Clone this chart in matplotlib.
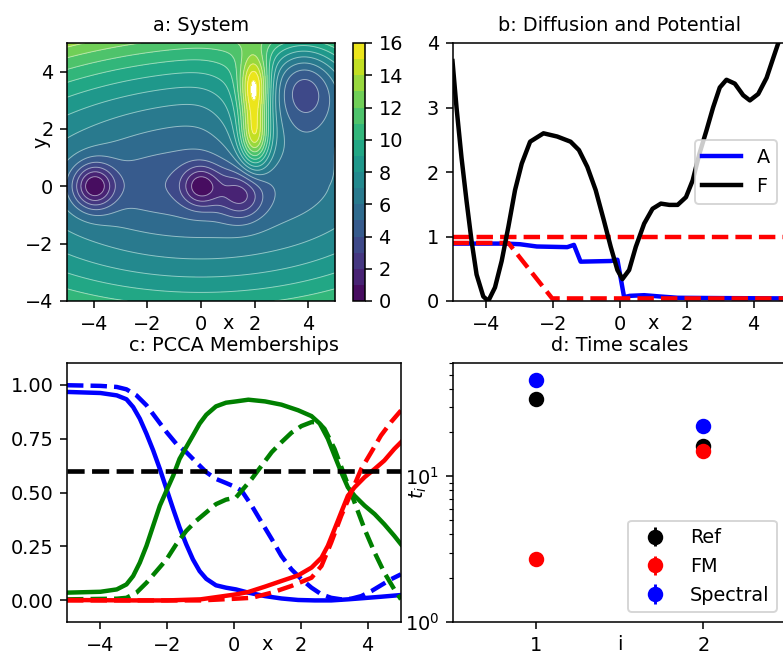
import numpy as np
import matplotlib.pyplot as plt

# --- a: System (2D potential built from a few wells and one barrier ridge) ---
bump_x = [-4.0, 0.0, 1.5, 3.8, -1.0, 2.0, 2.0, 2.0, 2.0]
bump_y = [0.0, 0.0, -0.3, 3.6, 0.0, 1.7, 2.6, 3.5, 2.7]
bump_amp = [-5.15, -3.9, -3.4, -5.0, -1.0, 6.5, 0.9, 6.6, 2.5]
bump_sx = [0.55, 0.5, 0.6, 1.1, 3.0, 0.38, 0.38, 0.38, 0.9]
bump_sy = [0.55, 0.5, 0.6, 1.1, 0.8, 0.75, 0.75, 0.75, 1.6]
base_level = 5.0
base_kx = 0.05
base_ky_up = 0.29
base_ky_down = 0.25
base_kxy = -0.03
base_y0 = 0.3
levels_a = np.arange(0, 17, 1)
cbar_ticks = [0, 2, 4, 6, 8, 10, 12, 14, 16]

# --- b: Diffusion and Potential ---
F_x = [-5.0, -4.88, -4.73, -4.58, -4.43, -4.28, -4.08, -3.93, -3.73, -3.53, -3.33,
       -3.13, -2.93, -2.68, -2.28, -1.87, -1.47, -1.22, -0.97, -0.72, -0.47, -0.27,
       -0.07, 0.08, 0.28, 0.48, 0.73, 0.98, 1.23, 1.48, 1.73, 1.98, 2.18, 2.38, 2.59,
       2.79, 2.99, 3.19, 3.44, 3.69, 3.89, 4.14, 4.39, 4.59, 4.74, 5.0]
F_y = [3.72, 3.0, 2.22, 1.55, 0.93, 0.41, 0.07, 0.0, 0.21, 0.62, 1.15,
       1.72, 2.13, 2.47, 2.6, 2.55, 2.47, 2.34, 2.08, 1.72, 1.24, 0.84,
       0.48, 0.34, 0.48, 0.84, 1.2, 1.43, 1.51, 1.49, 1.49, 1.61, 1.87, 2.28, 2.64,
       3.0, 3.31, 3.43, 3.37, 3.19, 3.11, 3.21, 3.46, 3.77, 4.0, 4.4]
A_x = [-5.0, -3.4, -2.98, -2.48, -1.57, -1.37, -1.17, -0.27, -0.07, 0.13, 0.3,
       0.73, 1.2, 1.73, 3.0, 5.0]
A_y = [0.89, 0.89, 0.88, 0.845, 0.835, 0.87, 0.61, 0.62, 0.64, 0.06, 0.08,
       0.09, 0.07, 0.05, 0.045, 0.04]
upper_x = [-5.0, 5.0]
upper_y = [1.0, 1.0]
lower_x = [-5.0, -3.33, -2.02, 5.0]
lower_y = [0.9, 0.9, 0.04, 0.04]

# --- c: PCCA Memberships (solid: FM, dashed: spectral) ---
blue_fm_x = [-5.0, -4.0, -3.51, -3.22, -3.02, -2.82, -2.62, -2.42, -2.22, -2.02, -1.82,
             -1.63, -1.43, -1.23, -1.03, -0.83, -0.54, -0.24, 0.06, 0.43, 0.93, 1.42,
             1.92, 2.42, 2.91, 3.41, 3.91, 4.4, 5.0]
blue_fm = [0.966, 0.961, 0.95, 0.932, 0.896, 0.842, 0.772, 0.695, 0.609, 0.516, 0.423,
           0.338, 0.26, 0.19, 0.136, 0.10, 0.07, 0.059, 0.051, 0.036, 0.02, 0.009,
           0.002, 0.0, 0.0, 0.005, 0.011, 0.017, 0.025]
green_fm_x = [-5.0, -4.0, -3.51, -3.22, -3.02, -2.82, -2.62, -2.42, -2.22, -2.02, -1.82,
              -1.63, -1.43, -1.23, -1.03, -0.83, -0.54, -0.24, 0.06, 0.43, 0.93, 1.42,
              1.92, 2.32, 2.57, 2.81, 3.01, 3.21, 3.41, 3.61, 3.91, 4.21, 4.5, 4.8, 5.0]
green_fm = [0.036, 0.04, 0.051, 0.074, 0.113, 0.175, 0.253, 0.346, 0.439, 0.509, 0.578,
            0.656, 0.71, 0.764, 0.819, 0.86, 0.899, 0.916, 0.922, 0.93, 0.922, 0.907,
            0.881, 0.854, 0.819, 0.749, 0.671, 0.594, 0.524, 0.485, 0.439, 0.40, 0.353,
            0.299, 0.26]
red_fm_x = [-5.0, -3.0, -2.0, -1.0, 0.06, 0.43, 0.93, 1.42, 1.92, 2.32, 2.62, 2.81,
            3.01, 3.21, 3.41, 3.61, 3.91, 4.21, 4.5, 4.8, 5.0]
red_fm = [0.002, 0.0, 0.0, 0.005, 0.028, 0.039, 0.064, 0.09, 0.116, 0.152, 0.198, 0.253,
          0.33, 0.408, 0.485, 0.524, 0.571, 0.609, 0.648, 0.702, 0.733]
blue_sp_x = [-5.0, -4.0, -3.51, -3.22, -2.92, -2.62, -2.32, -2.02, -1.73, -1.43, -1.13,
             -0.83, -0.54, -0.24, 0.06, 0.23, 0.53, 0.83, 1.13, 1.42, 1.72, 2.02, 2.32,
             2.62, 2.91, 3.21, 3.51, 3.81, 4.11, 4.4, 4.7, 5.0]
blue_sp = [0.997, 0.994, 0.989, 0.978, 0.95, 0.904, 0.842, 0.78, 0.726, 0.687, 0.64,
           0.594, 0.563, 0.544, 0.524, 0.508, 0.439, 0.361, 0.284, 0.206, 0.144, 0.098,
           0.059, 0.028, 0.012, 0.005, 0.008, 0.02, 0.043, 0.07, 0.098, 0.121]
green_sp_x = [-5.0, -3.51, -3.22, -2.92, -2.62, -2.32, -2.02, -1.73, -1.43, -1.13, -0.83,
              -0.54, -0.24, 0.06, 0.23, 0.53, 0.83, 1.13, 1.42, 1.72, 2.02, 2.32, 2.52,
              2.71, 3.01, 3.31, 3.61, 3.91, 4.21, 4.5, 4.8, 5.0]
green_sp = [0.005, 0.008, 0.012, 0.036, 0.082, 0.136, 0.19, 0.26, 0.322, 0.369, 0.408,
            0.446, 0.467, 0.477, 0.508, 0.563, 0.625, 0.687, 0.733, 0.777, 0.808, 0.826,
            0.826, 0.795, 0.702, 0.578, 0.454, 0.33, 0.222, 0.129, 0.051, 0.005]
red_sp_x = [-5.0, -1.0, 0.06, 0.53, 1.13, 1.72, 2.32, 2.62, 2.91, 3.21, 3.51, 3.81,
            4.11, 4.4, 4.7, 5.0]
red_sp = [0.0, 0.0, 0.008, 0.012, 0.036, 0.067, 0.105, 0.16, 0.268, 0.392, 0.50, 0.609,
          0.687, 0.764, 0.826, 0.88]
cutoff = 0.6

# --- d: Time scales ---
ts_index = [1, 2]
ts_ref = [34.1, 16.1]
ts_fm = [2.71, 14.9]
ts_spec = [46.1, 22.0]
ts_err = [0.0, 0.0]

plt.rcParams['font.size'] = 10
fig = plt.figure(figsize=(783 / 139, 652 / 139), dpi=139)
W, H = 783.0, 652.0


def place(l, t, r, b):
    return [l / W, 1 - b / H, (r - l) / W, (b - t) / H]


ax_a = fig.add_axes(place(67, 43, 335, 301))
cax = fig.add_axes(place(352.5, 43, 365, 301))
ax_b = fig.add_axes(place(452.5, 43, 787, 301))
ax_c = fig.add_axes(place(67, 363, 401, 622))
ax_d = fig.add_axes(place(452.5, 363, 787, 622))

# a
gx = np.linspace(-5, 5, 400)
gy = np.linspace(-4, 5, 400)
X, Y = np.meshgrid(gx, gy)
ky = np.where(Y > base_y0, base_ky_up, base_ky_down)
V = base_level + base_kx * X ** 2 + ky * (Y - base_y0) ** 2
V = V + base_kxy * X * np.clip(Y, 0, None)
for bx, by, amp, sx, sy in zip(bump_x, bump_y, bump_amp, bump_sx, bump_sy):
    V = V + amp * np.exp(-(X - bx) ** 2 / (2 * sx ** 2) - (Y - by) ** 2 / (2 * sy ** 2))
cf = ax_a.contourf(X, Y, V, levels=levels_a, cmap='viridis')
ax_a.contour(X, Y, V, levels=levels_a, colors='w', linewidths=0.5, alpha=0.5)
fig.colorbar(cf, cax=cax, ticks=cbar_ticks)
ax_a.set_title('a: System', fontsize=10)
ax_a.set_xticks([-4, -2, 0, 2, 4])
ax_a.set_yticks([-4, -2, 0, 2, 4])
ax_a.set_xlabel('x')
ax_a.set_ylabel('y')
ax_a.xaxis.set_label_coords(0.6, -0.052)
ax_a.yaxis.set_label_coords(-0.06, 0.616)

# b
ax_b.plot(A_x, A_y, color='b', lw=2.3, label='A')
ax_b.plot(upper_x, upper_y, 'r--', lw=2.3)
ax_b.plot(lower_x, lower_y, 'r--', lw=2.3)
ax_b.plot(F_x, F_y, color='k', lw=2.3, label='F')
ax_b.set_xlim(-5, 5)
ax_b.set_ylim(0, 4)
ax_b.set_xticks([-4, -2, 0, 2, 4])
ax_b.set_yticks([0, 1, 2, 3, 4])
ax_b.set_title('b: Diffusion and Potential', fontsize=10)
ax_b.set_xlabel('x')
ax_b.xaxis.set_label_coords(0.6, -0.052)
ax_b.legend(loc='center right')

# c
ax_c.plot(blue_fm_x, blue_fm, color='b', lw=2.3)
ax_c.plot(blue_sp_x, blue_sp, color='b', lw=2.3, ls='--')
ax_c.plot(green_fm_x, green_fm, color='g', lw=2.3)
ax_c.plot(green_sp_x, green_sp, color='g', lw=2.3, ls='--')
ax_c.plot(red_fm_x, red_fm, color='r', lw=2.3)
ax_c.plot(red_sp_x, red_sp, color='r', lw=2.3, ls='--')
ax_c.axhline(cutoff, color='k', lw=2.4, ls='--')
ax_c.set_xlim(-5, 5)
ax_c.set_ylim(-0.1, 1.1)
ax_c.set_xticks([-4, -2, 0, 2, 4])
ax_c.set_yticks([0.0, 0.25, 0.5, 0.75, 1.0])
ax_c.set_title('c: PCCA Memberships', fontsize=10)
ax_c.set_xlabel('x')
ax_c.xaxis.set_label_coords(0.6, -0.052)

# d
ax_d.errorbar(ts_index, ts_ref, yerr=ts_err, fmt='o', color='k', ms=7, label='Ref')
ax_d.errorbar(ts_index, ts_fm, yerr=ts_err, fmt='o', color='r', ms=7, label='FM')
ax_d.errorbar(ts_index, ts_spec, yerr=ts_err, fmt='o', color='b', ms=7, label='Spectral')
ax_d.set_yscale('log')
ax_d.set_xlim(0.5, 2.5)
ax_d.set_ylim(1, 60)
ax_d.set_xticks(ts_index)
ax_d.set_title('d: Time scales', fontsize=10)
ax_d.set_xlabel('i')
ax_d.set_ylabel(r'$t_i$')
ax_d.xaxis.set_label_coords(0.5, -0.052)
ax_d.yaxis.set_label_coords(-0.069, 0.5)
ax_d.legend(loc='lower right')

fig.savefig('out.png', dpi=139)
